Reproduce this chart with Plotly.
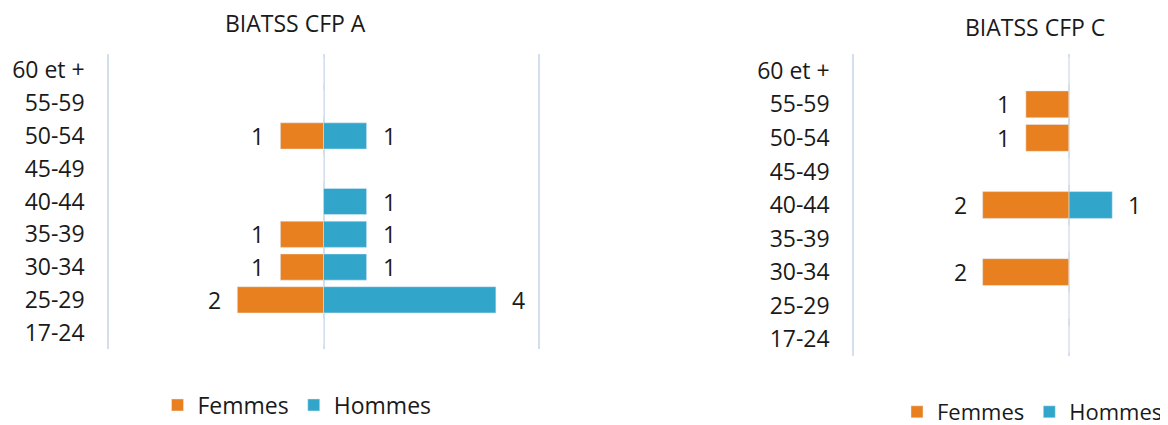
import plotly.graph_objects as go

tranches = ["17-24", "25-29", "30-34", "35-39", "40-44", "45-49", "50-54", "55-59", "60 et +"]

femmes_a = [0, 2, 1, 1, 0, 0, 1, 0, 0]
hommes_a = [0, 4, 1, 1, 1, 0, 1, 0, 0]
femmes_c = [0, 0, 2, 0, 2, 0, 1, 1, 0]
hommes_c = [0, 0, 0, 0, 1, 0, 0, 0, 0]

orange = "#E8801F"
bleu = "#31A6CA"
police = dict(family="Open Sans", size=23, color="#1a1a1a")

# la page a une marge de 8px : la figure fait 1160x417
W, H = 1160, 417

fig = go.Figure()


def add_pyramide(fig, femmes, hommes, xa, ya, legende):
    fig.add_trace(go.Bar(y=tranches, x=[-v for v in femmes], orientation="h", name="Femmes",
                         marker_color=orange, xaxis=xa, yaxis=ya, legend=legende))
    fig.add_trace(go.Bar(y=tranches, x=hommes, orientation="h", name="Hommes",
                         marker_color=bleu, xaxis=xa, yaxis=ya, legend=legende))
    # etiquettes de valeurs, a l'exterieur des barres
    for cat, f, h in zip(tranches, femmes, hommes):
        if f:
            fig.add_annotation(x=-f, y=cat, xref=xa, yref=ya, text=str(f), showarrow=False,
                               xanchor="right", xshift=-14, font=police)
        if h:
            fig.add_annotation(x=h, y=cat, xref=xa, yref=ya, text=str(h), showarrow=False,
                               xanchor="left", xshift=14, font=police)


add_pyramide(fig, femmes_a, hommes_a, "x", "y", "legend")
add_pyramide(fig, femmes_c, hommes_c, "x2", "y2", "legend2")

fig.add_annotation(text="BIATSS CFP A", x=287 / W, y=1 - 15 / H, xref="paper", yref="paper",
                   xanchor="center", yanchor="middle", showarrow=False, font=police)
fig.add_annotation(text="BIATSS CFP C", x=1027 / W, y=1 - 19 / H, xref="paper", yref="paper",
                   xanchor="center", yanchor="middle", showarrow=False, font=police)

axe_x = dict(showgrid=True, gridcolor="#D3DFEF", gridwidth=2, tickvals=[-5, 0, 5],
             showticklabels=False, zeroline=False, showline=False, layer="above traces",
             fixedrange=True, automargin=False)
axe_y = dict(type="category", categoryorder="array", categoryarray=tranches,
             showgrid=False, zeroline=False, tickfont=police, ticklabelstandoff=18,
             automargin=False)

fig.update_layout(
    width=W, height=H,
    margin=dict(l=0, r=0, t=0, b=0, autoexpand=False),
    paper_bgcolor="white", plot_bgcolor="white",
    barmode="relative", bargap=0.2,
    font=police,
    xaxis=dict(axe_x, domain=[95.7 / W, 535.3 / W], range=[-5.1, 5.1], anchor="y"),
    yaxis=dict(axe_y, domain=[1 - 341 / H, 1 - 46 / H], anchor="x"),
    xaxis2=dict(axe_x, domain=[840.7 / W, 1.0], range=[-5.1, 2.29], anchor="y2"),
    yaxis2=dict(axe_y, domain=[1 - 348 / H, 1 - 46 / H], anchor="x2"),
    legend=dict(orientation="h", x=289 / W, xanchor="center", y=1 - 397 / H, yanchor="middle",
                font=police),
    legend2=dict(orientation="h", x=1.0, xanchor="right", y=1 - 404 / H, yanchor="middle",
                 font=dict(police, size=22)),
)

fig.write_html("out.html")
